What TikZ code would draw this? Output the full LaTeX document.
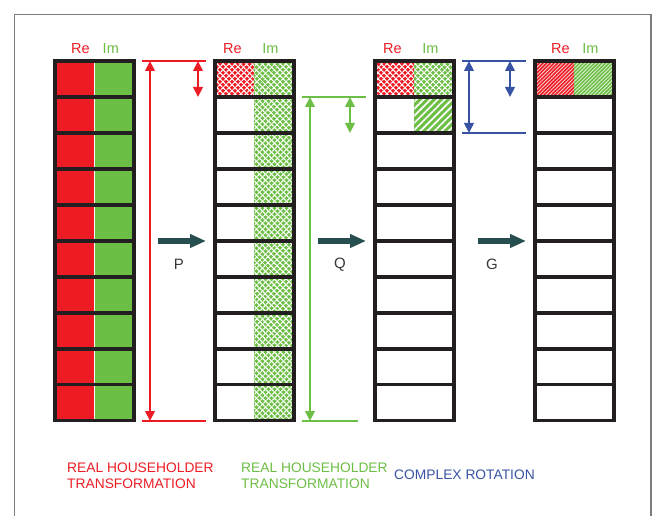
\documentclass[tikz,border=0pt]{standalone}
\usepackage{fontspec}
\setmainfont{Liberation Sans}
\usetikzlibrary{arrows.meta,patterns.meta}
\definecolor{hred}{RGB}{237,28,36}
\definecolor{hgreen}{RGB}{109,190,69}
\definecolor{hblue}{RGB}{57,83,164}
\definecolor{hdark}{RGB}{38,78,78}
\definecolor{hink}{RGB}{35,31,32}
\definecolor{hframe}{RGB}{125,125,125}
\definecolor{hlabel}{RGB}{55,55,55}

% cell (column, row, half) of the matrix columns; half 0 = Re, 1 = Im
\newcommand{\cellfill}[4]{%
  \fill[#4] (54.7+160*#1+39.75*#3, 61+35.95*#2) rectangle (54.7+160*#1+39.75*#3+39.75, 61+35.95*#2+35.95);}
\newcommand{\crosscell}[4]{%
  \cellfill{#1}{#2}{#3}{#4}%
  \cellfill{#1}{#2}{#3}{pattern={Lines[angle=45,distance=4pt,line width=1.25pt]},pattern color=white}%
  \cellfill{#1}{#2}{#3}{pattern={Lines[angle=-45,distance=4pt,line width=1.25pt]},pattern color=white}}
\newcommand{\stripecell}[4]{%
  \cellfill{#1}{#2}{#3}{#4}%
  \cellfill{#1}{#2}{#3}{pattern={Lines[angle=45,distance=5pt,line width=1.7pt]},pattern color=white}}
\newcommand{\finecell}[4]{%
  \cellfill{#1}{#2}{#3}{#4}%
  \cellfill{#1}{#2}{#3}{pattern={Lines[angle=45,distance=2.6pt,line width=0.8pt]},pattern color=white!80!#4}}
% grid of one column: outline and row separators
\newcommand{\colgrid}[1]{%
  \foreach \k in {1,...,9}
    \draw[gridline] (54.7+160*#1, 61+35.95*\k) -- (134.2+160*#1, 61+35.95*\k);
  \draw[gridline] (54.7+160*#1, 61) rectangle (134.2+160*#1, 420.5);}

\begin{document}
\begin{tikzpicture}[x=1pt,y=-1pt,
  gridline/.style={draw=hink,line width=3.8pt},
  guide/.style={line width=1.2pt},
  dimarrow/.style={line width=2.2pt,{Triangle[width=9.5pt,length=10pt]}-{Triangle[width=9.5pt,length=10pt]}},
  steparrow/.style={draw=hdark,line width=5.5pt,-{Triangle[width=13pt,length=16pt]}},
  collabel/.style={font=\fontsize{14.5}{17}\selectfont,anchor=base,inner sep=0pt},
  oplabel/.style={font=\fontsize{15}{18}\selectfont,text=hlabel,inner sep=0pt},
  caption/.style={font=\fontsize{13.8}{16}\selectfont,anchor=base west,inner sep=0pt}]
\useasboundingbox (0,0) rectangle (654,516);

% outer frame
\draw[hframe,line width=1.5pt] (14.5,516) -- (14.5,14.5) -- (650.8,14.5) -- (650.8,516);

% column 1: full real and imaginary parts
\foreach \r in {0,...,9} {
  \cellfill{0}{\r}{0}{hred}
  \cellfill{0}{\r}{1}{hgreen}
}
\draw[white,line width=0.8pt] (94.45,61) -- (94.45,420.5);
\colgrid{0}

% column 2: after P
\crosscell{1}{0}{0}{hred}
\foreach \r in {0,...,9} { \crosscell{1}{\r}{1}{hgreen} }
\colgrid{1}

% column 3: after Q
\crosscell{2}{0}{0}{hred}
\crosscell{2}{0}{1}{hgreen}
\stripecell{2}{1}{1}{hgreen}
\colgrid{2}

% column 4: after G
\finecell{3}{0}{0}{hred}
\finecell{3}{0}{1}{hgreen}
\colgrid{3}

% Re / Im headers
\foreach \x/\y in {80.3/110.8, 232.5/270.5, 392.5/430.5, 560.3/590.5} {
  \node[collabel,text=hred] at (\x,54) {Re};
  \node[collabel,text=hgreen] at (\y,54) {Im};
}

% dimension marks of the real Householder step
\coordinate (rt1) at (142,61);  \coordinate (rt2) at (206,61);
\coordinate (rb1) at (142,421); \coordinate (rb2) at (206,421);
\draw[guide,hred] (rt1) -- (rt2);
\draw[guide,hred] (rb1) -- (rb2);
\coordinate (rla) at (150,61);  \coordinate (rlb) at (150,421);
\coordinate (rsa) at (198,61);  \coordinate (rsb) at (198,97);
\draw[dimarrow,hred] (rla) -- (rlb);
\draw[dimarrow,hred] (rsa) -- (rsb);

% dimension marks of the second real Householder step
\coordinate (gt1) at (302,97);  \coordinate (gt2) at (366,97);
\coordinate (gb1) at (302,421); \coordinate (gb2) at (358,421);
\draw[guide,hgreen] (gt1) -- (gt2);
\draw[guide,hgreen] (gb1) -- (gb2);
\coordinate (gla) at (310,97);  \coordinate (glb) at (310,421);
\coordinate (gsa) at (350,97);  \coordinate (gsb) at (350,133);
\draw[dimarrow,hgreen] (gla) -- (glb);
\draw[dimarrow,hgreen] (gsa) -- (gsb);

% dimension marks of the complex rotation
\coordinate (bt1) at (462,61);  \coordinate (bt2) at (526,61);
\coordinate (bb1) at (462,133); \coordinate (bb2) at (526,133);
\draw[guide,hblue] (bt1) -- (bt2);
\draw[guide,hblue] (bb1) -- (bb2);
\coordinate (bla) at (469,61);  \coordinate (blb) at (469,133);
\coordinate (bsa) at (510,61);  \coordinate (bsb) at (510,97);
\draw[dimarrow,hblue] (bla) -- (blb);
\draw[dimarrow,hblue] (bsa) -- (bsb);

% step arrows with their operator names
\coordinate (pa) at (158,241); \coordinate (pb) at (206,241);
\coordinate (qa) at (318,241); \coordinate (qb) at (366,241);
\coordinate (ga) at (478,241); \coordinate (gb) at (526,241);
\draw[steparrow] (pa) -- (pb);
\draw[steparrow] (qa) -- (qb);
\draw[steparrow] (ga) -- (gb);
\node[oplabel] (opP) at (179,264.5) {P};
\node[oplabel] (opQ) at (340,264.5) {Q};
\node[oplabel] (opG) at (492,264.5) {G};

% legend
\node[caption,text=hred] (l1a) at (67,472) {REAL HOUSEHOLDER};
\node[caption,text=hred] (l1b) at (67,488) {TRANSFORMATION};
\node[caption,text=hgreen] (l2a) at (241,472) {REAL HOUSEHOLDER};
\node[caption,text=hgreen] (l2b) at (241,488) {TRANSFORMATION};
\node[caption,text=hblue] (l3) at (394,479) {COMPLEX ROTATION};
\end{tikzpicture}
\end{document}
